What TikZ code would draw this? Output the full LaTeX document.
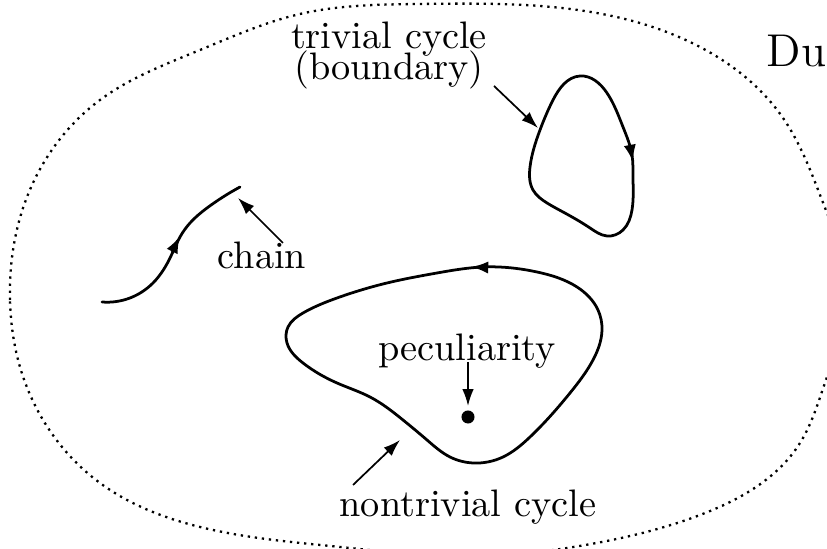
\documentclass[tikz,border=0pt]{standalone}
\usetikzlibrary{arrows.meta,hobby}
\begin{document}
\begin{tikzpicture}[x=0.261pt,y=-0.261pt,
  curve/.style={line width=0.72pt, line join=round, line cap=round},
  pointer/.style={line width=0.45pt,-{Latex[length=4.4pt,width=3pt]}},
  tipmark/.style={line width=0.72pt,-{Latex[length=4.5pt,width=3.2pt]}},
  lbl/.style={inner sep=0pt, anchor=base},
  region/.style={line width=0.6pt, dash pattern=on 0.6pt off 1.25pt}]
\useasboundingbox (0,0) rectangle (827,549);
\clip (0,0) rectangle (827,549);
% outer region
\draw[region, use Hobby shortcut, closed=true]
  (10,300) .. (27,197) .. (100,100) .. (200,50) .. (300,14) .. (420,4) .. (540,6)
  .. (700,47) .. (783,118) .. (827,213) .. (849,295) .. (827,377) .. (800,443) .. (700,515)
  .. (567,548) .. (460,557) .. (350,548) .. (200,527) .. (100,483) .. (20,367);
% trivial cycle
\draw[curve, use Hobby shortcut, closed=true]
  (580,76) .. (607,93) .. (623,127) .. (632,155) .. (633,177) .. (632,210) .. (623,230)
  .. (607,236) .. (590,228) .. (563,212) .. (547,203) .. (533,190) .. (530,167)
  .. (540,130) .. (553,100);
\draw[tipmark] (630,146) -- (633,162);
% nontrivial cycle
\draw[curve, use Hobby shortcut, closed=true]
  (483,267) .. (537,272) .. (577,287) .. (598,310) .. (602,330) .. (593,360) .. (570,393)
  .. (530,437) .. (503,457) .. (473,463) .. (450,457) .. (427,440) .. (403,420) .. (370,397)
  .. (337,383) .. (303,363) .. (287,343) .. (288,327) .. (303,313) .. (337,298) .. (387,283)
  .. (437,273);
\draw[tipmark] (488,267.5) -- (471,267);
% chain
\draw[curve, use Hobby shortcut]
  (102,302) .. (130,298) .. (153,283) .. (171,256) .. (180,237) .. (190,223) .. (207,208)
  .. (223,197) .. (240,187);
\draw[tipmark] (172,252) -- (180,236);
% peculiarity
\fill (468,417) circle[radius=1.7pt];
% labels
\node[inner sep=0pt, anchor=north, align=center] (triv) at (389,21)
  {trivial cycle\\[-3.9pt](boundary)};
\node[lbl, anchor=base west] (du) at (766,67) {\large Du};
\node[lbl] (chain) at (262,269) {chain};
\node[lbl] (pec) at (467,361) {peculiarity};
\node[lbl] (nontriv) at (468,517) {nontrivial cycle};
% pointers
\coordinate (bndS) at (494,86);   \coordinate (bndT) at (538,128);
\coordinate (chS) at (283,243);   \coordinate (chT) at (238,198);
\coordinate (pecS) at (468,362);  \coordinate (pecT) at (468,406);
\coordinate (ntS) at (353,485);   \coordinate (ntT) at (400,440);
\draw[pointer] (bndS) -- (bndT);
\draw[pointer] (chS) -- (chT);
\draw[pointer] (pecS) -- (pecT);
\draw[pointer] (ntS) -- (ntT);
\end{tikzpicture}
\end{document}
